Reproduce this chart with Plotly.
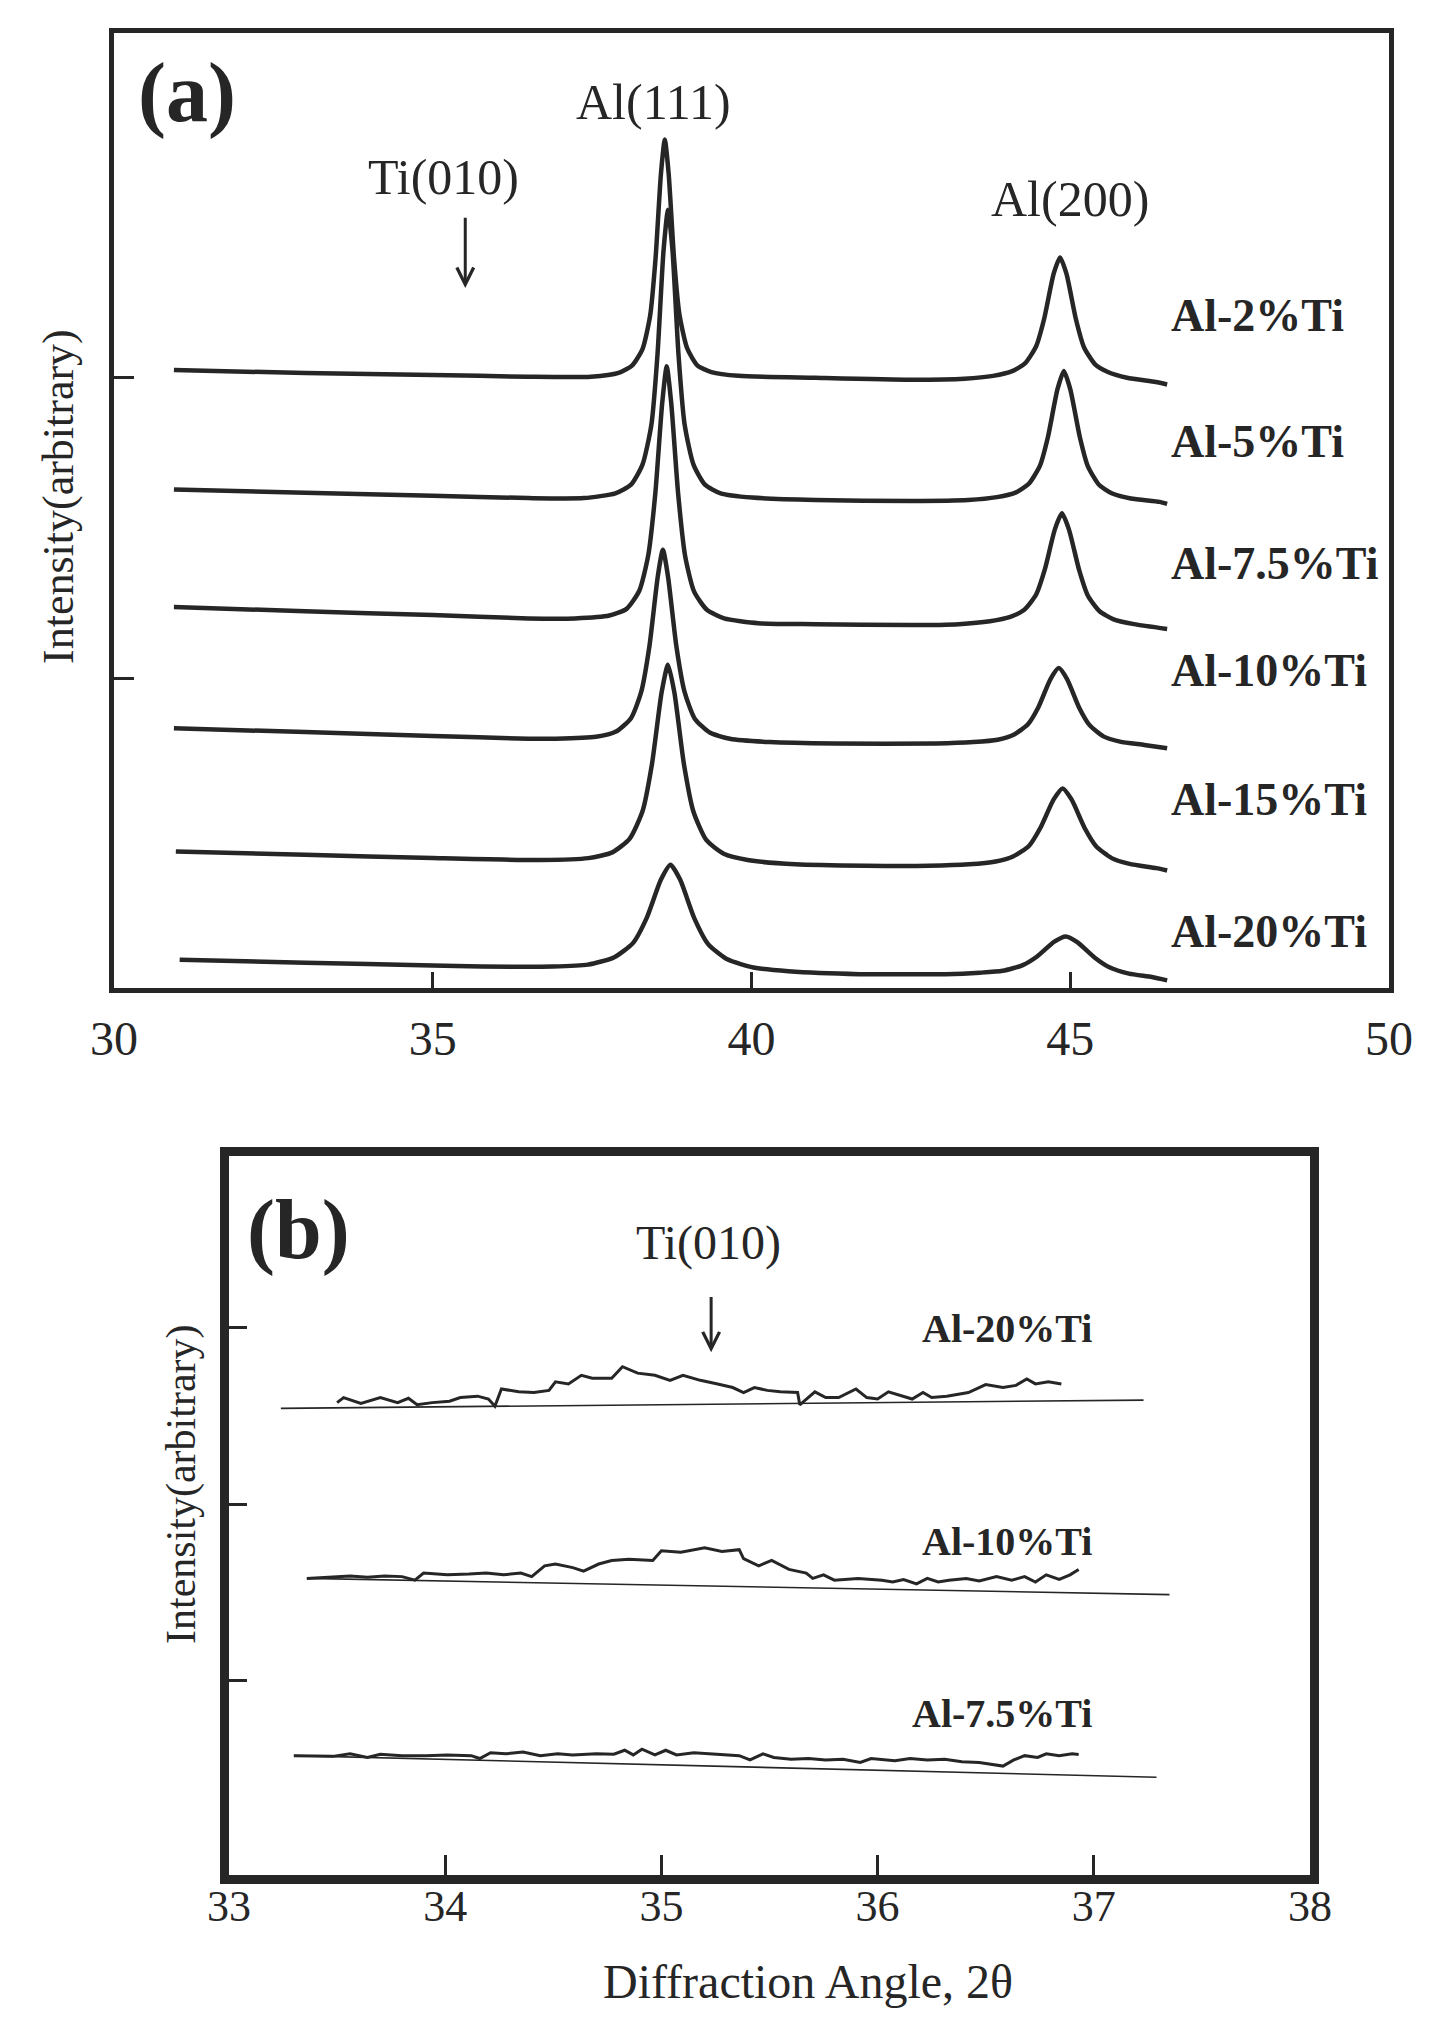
import plotly.graph_objects as go

FONT = "Liberation Serif, Times New Roman, serif"
INK = "#262626"

# ---------------- Panel (a): XRD patterns, 2theta 30-50 ----------------
a_labels = ["Al-2%Ti", "Al-5%Ti", "Al-7.5%Ti", "Al-10%Ti", "Al-15%Ti", "Al-20%Ti"]
a_label_y = [70.4, 57.2, 44.4, 33.2, 19.7, 5.9]

a2_x = [30.94, 33.0, 35.0, 36.5, 37.48, 37.915, 38.13, 38.29, 38.41, 38.495, 38.58, 38.64, 38.70, 38.785, 38.87,
        38.99, 39.15, 39.37, 39.8, 41.0, 42.5, 43.34, 43.79, 44.09, 44.29, 44.465, 44.59, 44.74, 44.84, 44.94,
        45.09, 45.215, 45.39, 45.59, 45.89, 46.34, 46.52]
a2_y = [64.7, 64.4, 64.2, 64.0, 64.0, 64.4, 65.2, 66.9, 70.4, 76.4, 85.3, 88.85, 85.3, 76.4, 70.5,
        67.0, 65.2, 64.5, 64.1, 63.9, 63.7, 63.8, 64.1, 64.6, 65.4, 67.2, 70.05, 74.8, 76.5, 74.8,
        70.0, 67.1, 65.3, 64.5, 63.9, 63.45, 63.2]

a5_x = [30.94, 33.0, 35.0, 36.5, 37.37, 37.865, 38.11, 38.29, 38.43, 38.525, 38.62, 38.69, 38.76, 38.855, 38.95,
        39.09, 39.27, 39.515, 40.01, 41.0, 42.5, 43.4, 43.85, 44.15, 44.35, 44.525, 44.65, 44.80, 44.90, 45.0,
        45.15, 45.275, 45.45, 45.65, 45.95, 46.4, 46.52]
a5_y = [52.2, 51.85, 51.55, 51.3, 51.3, 51.8, 52.7, 54.8, 59.0, 66.3, 77.2, 81.5, 77.3, 66.3, 59.05,
        54.8, 52.7, 51.8, 51.35, 51.1, 51.0, 51.1, 51.4, 51.9, 52.8, 54.7, 57.7, 62.7, 64.6, 62.7,
        57.7, 54.65, 52.7, 51.8, 51.25, 50.9, 50.7]

a75_x = [30.94, 33.0, 35.0, 36.5, 37.23, 37.77, 38.04, 38.24, 38.38, 38.49, 38.60, 38.67, 38.74, 38.85, 38.96,
         39.10, 39.30, 39.57, 40.11, 41.0, 42.5, 43.25, 43.74, 44.06, 44.28, 44.465, 44.60, 44.76, 44.87, 44.98,
         45.14, 45.275, 45.46, 45.68, 46.0, 46.52]
a75_y = [39.9, 39.45, 39.05, 38.7, 38.7, 39.0, 39.7, 41.6, 45.3, 51.7, 61.3, 65.1, 61.3, 51.7, 45.2,
         41.5, 39.6, 38.7, 38.2, 38.1, 38.0, 38.1, 38.4, 38.85, 39.6, 41.2, 43.8, 48.05, 49.7, 48.0,
         43.75, 41.1, 39.45, 38.6, 38.1, 37.6]

a10_x = [30.94, 33.0, 35.0, 36.5, 36.93, 37.56, 37.875, 38.11, 38.27, 38.40, 38.53, 38.61, 38.69, 38.82, 38.95,
         39.11, 39.345, 39.66, 40.29, 41.3, 42.9, 43.48, 43.86, 44.12, 44.34, 44.50, 44.69, 44.82, 44.95, 45.14,
         45.30, 45.52, 45.78, 46.16, 46.52]
a10_y = [27.2, 26.8, 26.4, 26.1, 26.1, 26.3, 26.85, 28.25, 31.0, 35.85, 43.1, 45.9, 43.1, 35.85, 31.0,
         28.2, 26.75, 26.1, 25.75, 25.6, 25.6, 25.75, 26.0, 26.55, 27.65, 29.4, 32.35, 33.5, 32.35, 29.35,
         27.55, 26.35, 25.8, 25.45, 25.1]

a15_x = [30.97, 33.0, 35.0, 36.69, 37.44, 37.815, 38.09, 38.29, 38.44, 38.59, 38.69, 38.79, 38.94, 39.09, 39.29,
         39.565, 39.94, 40.69, 41.8, 42.78, 43.41, 43.83, 44.11, 44.355, 44.53, 44.74, 44.88, 45.02, 45.23, 45.405,
         45.65, 45.93, 46.35, 46.52]
a15_y = [14.3, 13.95, 13.6, 13.4, 13.6, 14.2, 15.65, 18.5, 23.5, 30.95, 33.85, 30.95, 23.45, 18.45, 15.5,
         14.05, 13.4, 12.95, 12.8, 12.8, 12.95, 13.25, 13.8, 14.9, 16.75, 19.75, 20.9, 19.75, 16.7, 14.85,
         13.6, 13.0, 12.55, 12.3]

a20_x = [31.03, 33.0, 35.0, 35.77, 36.88, 37.435, 37.84, 38.14, 38.36, 38.58, 38.73, 38.88, 39.10, 39.32, 39.62,
         40.03, 40.58, 41.69, 42.23, 43.04, 43.58, 43.94, 44.255, 44.48, 44.75, 44.93, 45.11, 45.38, 45.605, 45.92,
         46.28, 46.52]
a20_y = [2.97, 2.65, 2.35, 2.25, 2.25, 2.45, 3.2, 4.7, 7.4, 11.35, 12.9, 11.35, 7.35, 4.6, 3.0,
         2.15, 1.75, 1.45, 1.45, 1.45, 1.6, 1.8, 2.4, 3.3, 4.85, 5.4, 4.8, 3.2, 2.2, 1.5,
         1.15, 0.8]

a_series = [(a2_x, a2_y), (a5_x, a5_y), (a75_x, a75_y), (a10_x, a10_y), (a15_x, a15_y), (a20_x, a20_y)]
a_xticks = [30, 35, 40, 45, 50]
a_yticks = [32.4, 63.9]

# ---------------- Panel (b): Ti(010) region, 2theta 33-38 ----------------
b_labels = ["Al-20%Ti", "Al-10%Ti", "Al-7.5%Ti"]
b_label_y = [76.0, 46.4, 22.4]

b20_x = [33.50, 33.53, 33.61, 33.70, 33.78, 33.83, 33.87, 33.94, 34.02, 34.07,
         34.15, 34.20, 34.23, 34.26, 34.34, 34.41, 34.48, 34.51, 34.57, 34.63,
         34.68, 34.77, 34.82, 34.89, 34.97, 35.04, 35.10, 35.18, 35.26, 35.33,
         35.38, 35.43, 35.49, 35.55, 35.63, 35.64, 35.71, 35.76, 35.82, 35.90,
         35.95, 36.00, 36.05, 36.12, 36.16, 36.21, 36.25, 36.32, 36.42, 36.50,
         36.58, 36.64, 36.69, 36.73, 36.79, 36.85]
b20_y = [65.7, 66.4, 65.6, 66.4, 65.7, 66.3, 65.4, 65.7, 65.9, 66.4,
         66.6, 66.2, 65.2, 67.6, 67.2, 67.1, 67.4, 68.6, 68.3, 69.5,
         69.1, 69.1, 70.7, 69.8, 69.5, 68.8, 69.5, 68.8, 68.3, 67.8,
         67.1, 67.8, 67.4, 67.2, 67.1, 65.4, 67.2, 66.4, 66.4, 67.6,
         66.4, 66.2, 67.2, 66.6, 66.2, 67.1, 66.4, 66.6, 67.1, 68.2,
         67.8, 68.1, 69.0, 68.3, 68.6, 68.3]

b10_x = [33.36, 33.48, 33.56, 33.64, 33.72, 33.80, 33.86, 33.90, 34.01, 34.11,
         34.19, 34.27, 34.35, 34.40, 34.46, 34.51, 34.59, 34.64, 34.71, 34.77,
         34.85, 34.96, 35.00, 35.09, 35.20, 35.28, 35.36, 35.38, 35.45, 35.51,
         35.59, 35.67, 35.70, 35.75, 35.80, 35.91, 36.02, 36.07, 36.12, 36.18,
         36.23, 36.28, 36.33, 36.41, 36.47, 36.55, 36.62, 36.68, 36.73, 36.78,
         36.84, 36.89, 36.93]
b10_y = [41.25, 41.4, 41.6, 41.4, 41.6, 41.5, 41.0, 42.0, 41.75, 41.85,
         42.0, 41.75, 42.0, 41.5, 43.0, 43.25, 42.75, 42.25, 43.25, 43.75,
         43.9, 43.75, 45.1, 44.9, 45.5, 45.0, 45.25, 44.0, 43.0, 43.75,
         42.5, 42.0, 41.25, 41.75, 41.0, 41.25, 41.0, 40.75, 41.1, 40.5,
         41.25, 40.75, 41.0, 41.25, 40.9, 41.5, 41.0, 41.5, 40.75, 41.75,
         41.1, 41.75, 42.5]

b75_x = [33.30, 33.48, 33.56, 33.64, 33.70, 33.80, 33.91, 34.01, 34.12, 34.16,
         34.21, 34.28, 34.36, 34.44, 34.52, 34.59, 34.70, 34.78, 34.83, 34.87,
         34.91, 34.97, 35.02, 35.07, 35.15, 35.23, 35.31, 35.36, 35.41, 35.47,
         35.52, 35.60, 35.68, 35.76, 35.84, 35.92, 35.97, 36.08, 36.15, 36.23,
         36.31, 36.39, 36.47, 36.58, 36.63, 36.68, 36.74, 36.78, 36.84, 36.90, 36.93]
b75_y = [16.6, 16.5, 16.85, 16.35, 16.8, 16.6, 16.6, 16.7, 16.6, 16.2,
         17.0, 16.85, 17.1, 16.6, 16.85, 16.7, 16.85, 16.8, 17.35, 16.7,
         17.5, 16.7, 17.35, 16.7, 17.0, 16.85, 16.7, 16.6, 16.0, 16.85,
         16.35, 16.1, 16.2, 16.0, 16.1, 15.65, 16.2, 15.9, 16.2, 16.0,
         16.1, 15.75, 15.65, 15.15, 16.0, 16.6, 16.35, 16.85, 16.6, 16.85, 16.75]

# hand-drawn straight background lines under each pattern
b20_base_x, b20_base_y = [33.24, 37.23], [64.9, 66.05]
b10_base_x, b10_base_y = [33.36, 37.35], [41.25, 39.0]
b75_base_x, b75_base_y = [33.30, 37.29], [16.6, 13.6]

b_series = [(b20_x, b20_y), (b10_x, b10_y), (b75_x, b75_y)]
b_bases = [(b20_base_x, b20_base_y), (b10_base_x, b10_base_y), (b75_base_x, b75_base_y)]
b_xticks = [33, 34, 35, 36, 37, 38]
b_yticks = [27.0, 51.5, 76.2]

# ---------------- Figure ----------------
fig = go.Figure()

for (xs, ys), name in zip(a_series, a_labels):
    fig.add_trace(go.Scatter(x=xs, y=ys, mode="lines", name=name, xaxis="x", yaxis="y",
                             line=dict(color=INK, width=4.5, shape="spline", smoothing=0.6),
                             showlegend=False, hoverinfo="skip"))

for (bx, by) in b_bases:
    fig.add_trace(go.Scatter(x=bx, y=by, mode="lines", xaxis="x2", yaxis="y2",
                             line=dict(color=INK, width=1.6), showlegend=False, hoverinfo="skip"))

for (xs, ys), name in zip(b_series, b_labels):
    fig.add_trace(go.Scatter(x=xs, y=ys, mode="lines", name=name, xaxis="x2", yaxis="y2",
                             line=dict(color=INK, width=3), showlegend=False, hoverinfo="skip"))

# The page body has an 8px margin, so the figure is made 16px smaller and
# page positions are offset by 8px.
PAGE_W, PAGE_H, OFF = 1451, 2022, 8
W, H = PAGE_W - 2 * OFF, PAGE_H - 2 * OFF

def px(xp):
    return (xp - OFF) / W

def py(yp):
    return 1 - (yp - OFF) / H

def xdom(l, r):
    return [px(l), px(r)]

def ydom(bottom, top):
    return [py(bottom), py(top)]

common_axis = dict(showgrid=False, zeroline=False, showline=True, mirror=True, linecolor=INK,
                   ticks="inside", tickcolor=INK, automargin=False)

fig.update_layout(
    template="none",
    width=W, height=H,
    margin=dict(l=0, r=0, t=0, b=0, pad=0, autoexpand=False),
    paper_bgcolor="white", plot_bgcolor="white",
    showlegend=False,
    font=dict(family=FONT, color=INK),
    xaxis=dict(domain=xdom(114, 1389), range=[30, 50], anchor="y",
               tickvals=a_xticks, ticktext=[str(v) for v in a_xticks],
               linewidth=5, ticklen=16, tickwidth=3,
               tickfont=dict(family=FONT, size=48, color=INK), ticklabelstandoff=4,
               **common_axis),
    yaxis=dict(domain=ydom(988, 33), range=[0, 100], anchor="x",
               tickvals=a_yticks, showticklabels=False,
               linewidth=5, ticklen=20, tickwidth=3, **common_axis),
    xaxis2=dict(domain=xdom(229, 1310), range=[33, 38], anchor="y2",
                tickvals=b_xticks, ticktext=[str(v) for v in b_xticks],
                linewidth=9, ticklen=20, tickwidth=3,
                tickfont=dict(family=FONT, size=44, color=INK), ticklabelstandoff=-16,
                **common_axis),
    yaxis2=dict(domain=ydom(1875, 1156), range=[0, 100], anchor="x2",
                tickvals=b_yticks, showticklabels=False,
                linewidth=9, ticklen=18, tickwidth=3, **common_axis),
)

ann = []
# panel (a) texts
ann.append(dict(x=31.14, y=93.7, xref="x", yref="y", text="<b>(a)</b>", showarrow=False,
                font=dict(size=84, family=FONT, color=INK)))
ann.append(dict(x=38.46, y=92.8, xref="x", yref="y", text="Al(111)", showarrow=False,
                font=dict(size=50, family=FONT, color=INK)))
ann.append(dict(x=35.17, y=84.9, xref="x", yref="y", text="Ti(010)", showarrow=False,
                font=dict(size=50, family=FONT, color=INK)))
ann.append(dict(x=44.99, y=82.6, xref="x", yref="y", text="Al(200)", showarrow=False,
                font=dict(size=50, family=FONT, color=INK)))
ann.append(dict(x=35.51, y=73.3, ax=35.51, ay=80.8, xref="x", yref="y", axref="x", ayref="y",
                text="", showarrow=True, arrowhead=5, arrowsize=1.1, arrowwidth=3, arrowcolor=INK))
for lab, ly in zip(a_labels, a_label_y):
    ann.append(dict(x=46.55, y=ly, xref="x", yref="y", xanchor="left", yanchor="middle",
                    text="<b>%s</b>" % lab,
                    showarrow=False, font=dict(size=46, family=FONT, color=INK)))
ann.append(dict(x=px(58), y=py(497), xref="paper", yref="paper", text="Intensity(arbitrary)",
                xanchor="center", yanchor="middle",
                textangle=-90, showarrow=False, font=dict(size=44, family=FONT, color=INK)))

# panel (b) texts
ann.append(dict(x=33.32, y=89.75, xref="x2", yref="y2", text="<b>(b)</b>", showarrow=False,
                font=dict(size=84, family=FONT, color=INK)))
ann.append(dict(x=35.22, y=87.9, xref="x2", yref="y2", text="Ti(010)", showarrow=False,
                font=dict(size=48, family=FONT, color=INK)))
ann.append(dict(x=35.23, y=72.7, ax=35.23, ay=80.6, xref="x2", yref="y2", axref="x2", ayref="y2",
                text="", showarrow=True, arrowhead=5, arrowsize=1.1, arrowwidth=3, arrowcolor=INK))
for lab, ly in zip(b_labels, b_label_y):
    ann.append(dict(x=37.0, y=ly, xref="x2", yref="y2", xanchor="right", yanchor="middle",
                    text="<b>%s</b>" % lab,
                    showarrow=False, font=dict(size=40, family=FONT, color=INK)))
ann.append(dict(x=px(181), y=py(1484), xref="paper", yref="paper", text="Intensity(arbitrary)",
                xanchor="center", yanchor="middle",
                textangle=-90, showarrow=False, font=dict(size=42, family=FONT, color=INK)))
ann.append(dict(x=px(808), y=py(2010), xref="paper", yref="paper", text="Diffraction Angle, 2θ",
                xanchor="center", yanchor="bottom",
                showarrow=False, font=dict(size=48, family=FONT, color=INK)))

fig.update_layout(annotations=ann)

fig.write_html("out.html")
